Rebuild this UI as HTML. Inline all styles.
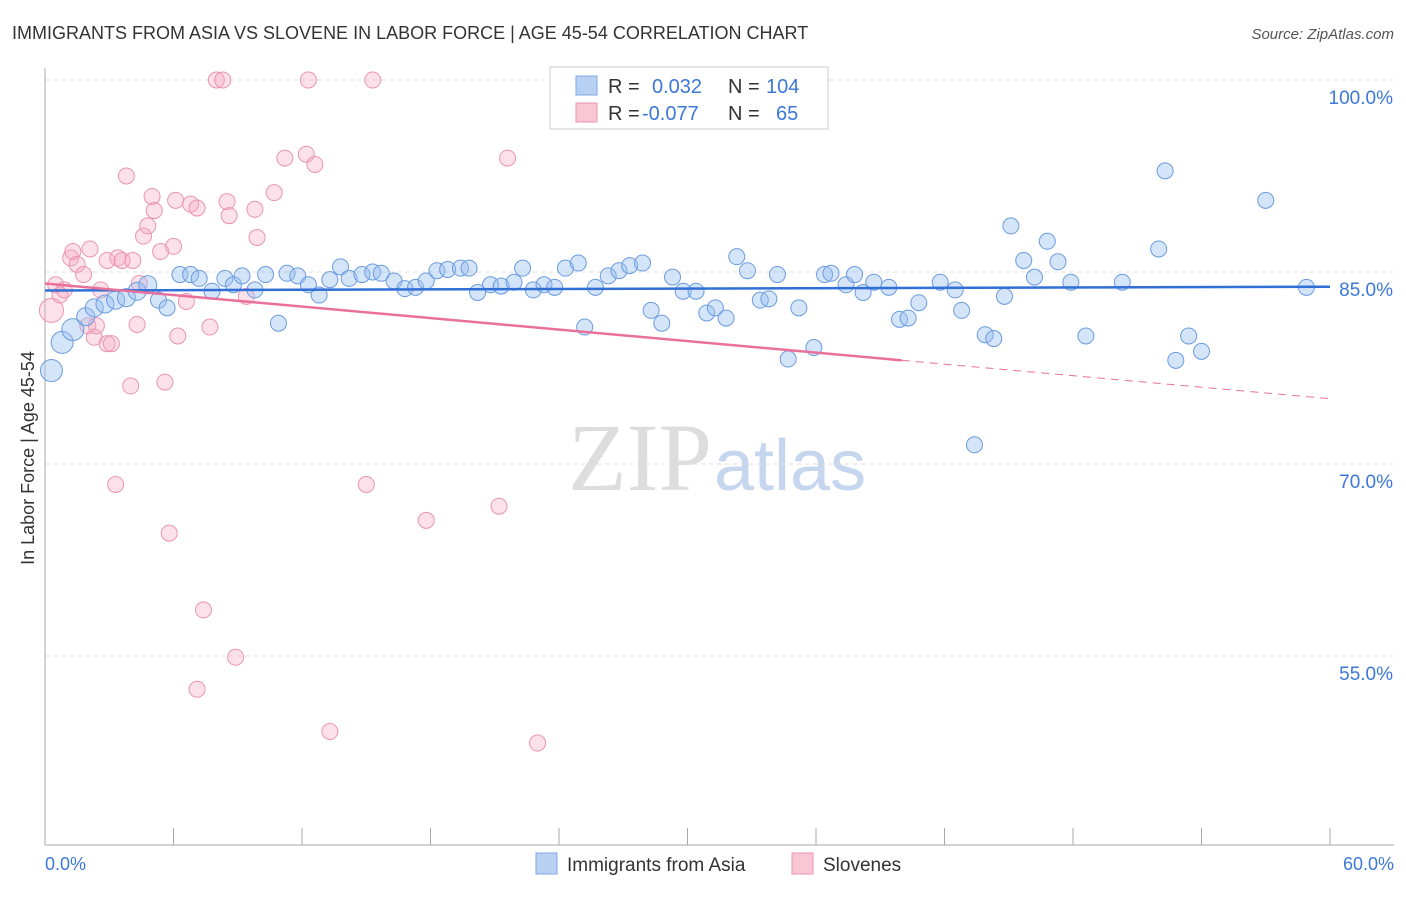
<!DOCTYPE html>
<html><head><meta charset="utf-8"><style>
body{margin:0;background:#fff;font-family:"Liberation Sans",sans-serif;}
</style></head><body>
<svg id="chart" width="1406" height="892" xmlns="http://www.w3.org/2000/svg">
<text x="12" y="39" font-size="18" fill="#333">IMMIGRANTS FROM ASIA VS SLOVENE IN LABOR FORCE | AGE 45-54 CORRELATION CHART</text>
<text x="1394" y="39" font-size="15" fill="#555" font-style="italic" text-anchor="end">Source: ZipAtlas.com</text>
<text x="712" y="490" font-size="96" fill="#ddd" text-anchor="end" font-family="Liberation Serif,serif">ZIP</text>
<text x="714" y="490" font-size="72" fill="#c5d6ee">atlas</text>
<g id="grid"></g>
<g id="axes"></g>
<g id="pts"></g>
<g id="trend"></g>
<text x="34" y="458" font-size="18" fill="#333" text-anchor="middle" transform="rotate(-90 34 458)">In Labor Force | Age 45-54</text>
<g>
<rect x="550" y="67" width="278" height="62" fill="#fff" stroke="#ccc"/>
<rect x="576" y="76" width="21" height="19" fill="#b8d1f3" stroke="#7fa7e0"/>
<rect x="576" y="103" width="21" height="19" fill="#f9c6d5" stroke="#eb94b0"/>
<text x="608" y="93" font-size="20" fill="#333">R =</text>
<text x="652" y="93" font-size="20" fill="#3b78d8">0.032</text>
<text x="728" y="93" font-size="20" fill="#333">N =</text>
<text x="766" y="93" font-size="20" fill="#3b78d8">104</text>
<text x="608" y="120" font-size="20" fill="#333">R =</text>
<text x="642" y="120" font-size="20" fill="#3b78d8">-0.077</text>
<text x="728" y="120" font-size="20" fill="#333">N =</text>
<text x="776" y="120" font-size="20" fill="#3b78d8">65</text>
</g>
<g>
<rect x="536" y="853" width="21" height="21" fill="#b8d1f3" stroke="#7fa7e0"/>
<text x="567" y="871" font-size="19" fill="#333">Immigrants from Asia</text>
<rect x="792" y="853" width="21" height="21" fill="#f9c6d5" stroke="#eb94b0"/>
<text x="823" y="871" font-size="19" fill="#333">Slovenes</text>
</g>
</svg>
<script>
const yTicks=[100,85,70,55];
const xTickLabels=["0.0%","60.0%"];
const blueX=[0.3,0.8,1.3,1.9,2.3,2.8,3.3,3.8,4.3,4.8,5.3,5.7,6.3,6.8,7.2,7.8,8.4,8.8,9.2,9.8,10.3,10.9,11.3,11.8,12.3,12.8,13.3,13.8,14.2,14.8,15.3,15.7,16.3,16.8,17.3,17.8,18.3,18.8,19.4,19.8,20.2,20.8,21.3,21.9,22.3,22.8,23.3,23.8,24.3,24.9,25.2,25.7,26.3,26.8,27.3,27.9,28.3,28.8,29.3,29.8,30.4,30.9,31.3,31.8,32.3,32.8,33.4,33.8,34.2,34.7,35.2,35.9,36.4,36.7,37.4,37.8,38.2,38.7,39.4,39.9,40.3,40.8,41.8,42.5,42.8,43.4,43.9,44.3,44.8,45.1,45.7,46.2,46.8,47.3,47.9,48.6,50.3,52.0,52.3,52.8,53.4,54.0,57.0,58.9];
const blueY=[77.3,79.5,80.5,81.5,82.2,82.5,82.8,83.0,83.5,84.0,82.8,82.2,84.8,84.8,84.5,83.5,84.5,84.0,84.7,83.6,84.8,81.0,84.9,84.7,84.0,83.2,84.4,85.4,84.5,84.8,85.0,84.9,84.3,83.7,83.8,84.3,85.1,85.2,85.3,85.3,83.4,84.0,83.9,84.2,85.3,83.6,84.0,83.8,85.3,85.7,80.7,83.8,84.7,85.1,85.5,85.7,82.0,81.0,84.6,83.5,83.5,81.8,82.2,81.4,86.2,85.1,82.8,82.9,84.8,78.2,82.2,79.1,84.8,84.9,84.0,84.8,83.4,84.2,83.8,81.3,81.4,82.6,84.2,83.6,82.0,71.5,80.1,79.8,83.1,88.6,85.9,84.6,87.4,85.8,84.2,80.0,84.2,86.8,92.9,78.1,80.0,78.8,90.6,83.8];
const pinkX=[0.3,0.5,0.7,0.9,1.2,1.3,1.5,1.8,2.0,2.1,2.3,2.4,2.6,2.9,2.9,3.1,3.3,3.4,3.6,3.8,4.0,4.1,4.3,4.4,4.6,4.8,5.0,5.1,5.4,5.6,5.8,6.0,6.1,6.2,6.6,6.8,7.1,7.4,7.1,7.7,8.0,8.3,8.5,8.6,8.9,9.8,9.9,9.4,10.7,11.2,12.2,12.3,12.6,13.3,15.0,15.3,17.8,21.2,21.6,23.0,33.4];
const pinkY=[82.0,84.0,83.2,83.6,86.1,86.6,85.6,84.8,80.8,86.8,79.9,80.8,83.6,79.4,85.9,79.4,68.4,86.1,85.9,92.5,76.1,85.9,80.9,84.1,87.8,88.6,90.9,89.8,86.6,76.4,64.6,87.0,90.6,80.0,82.7,90.3,90.0,58.6,52.4,80.7,100,100,90.5,89.4,54.9,89.9,87.7,83.1,91.2,93.9,94.2,100,93.4,49.1,68.4,100,65.6,66.7,93.9,48.2,100];
const pinkR=[12,8,8,8,8,8,8,8,8,8,8,8,8,8,8,8,8,8,8,8,8,8,8,8,8,8,8,8,8,8,8,8,8,8,8,8,8,8,8,8,8,8,8,8,8,8,8,8,8,8,8,8,8,8,8,8,8,8,8,8,8];
const blueTrend=[0,83.55,60,83.85];
const pinkTrend=[0,84.1,40,78.1,60,75.1];
const X=v=>45+v/60*1285, Y=v=>80+(100-v)*12.8;
const NS="http://www.w3.org/2000/svg";
function mk(p,t,a){const e=document.createElementNS(NS,t);for(const k in a)e.setAttribute(k,a[k]);document.getElementById(p).appendChild(e);return e;}
yTicks.forEach(t=>{
 const l=mk('grid','line',{x1:45,x2:1394,y1:Y(t),y2:Y(t),stroke:'#ddd','stroke-dasharray':'4,4'});
 
 
 const tx=mk('grid','text',{x:1393,y:Y(t)+24,'font-size':19,fill:'#3b78d8','text-anchor':'end'});
 tx.textContent=t.toFixed(1)+'%';
 
 
});
const ax=mk('axes','line',{x1:45,x2:45,y1:68,y2:845,stroke:'#aaa'});


const bx=mk('axes','line',{x1:45,x2:1394,y1:845,y2:845,stroke:'#aaa'});


for(let i=0;i<=10;i++){const x=X(i*6);const t=mk('axes','line',{x1:x,x2:x,y1:828,y2:845,stroke:'#aaa'});
 
 }
[[0,'start',45],[60,'end',1394]].forEach((d,i)=>{const t=mk('axes','text',{x:d[2],y:870,'font-size':18,fill:'#3b78d8','text-anchor':d[1]});t.textContent=xTickLabels[i];
 
 });
pinkX.forEach((v,i)=>{const c=mk('pts','circle',{cx:X(v),cy:Y(pinkY[i]),r:pinkR[i],fill:'rgba(246,170,195,0.35)',stroke:'#eb94b0','stroke-width':1});
 
 });
blueX.forEach((v,i)=>{const c=mk('pts','circle',{cx:X(v),cy:Y(blueY[i]),r:i<3?11:(i<10?9:8),fill:'rgba(150,190,240,0.4)',stroke:'#6a9be0','stroke-width':1});
 
 });
const bl=mk('trend','line',{x1:X(blueTrend[0]),y1:Y(blueTrend[1]),x2:X(blueTrend[2]),y2:Y(blueTrend[3]),stroke:'#2f6fd6','stroke-width':2.5});


const pl=mk('trend','line',{x1:X(pinkTrend[0]),y1:Y(pinkTrend[1]),x2:X(pinkTrend[2]),y2:Y(pinkTrend[3]),stroke:'#e8709a','stroke-width':2.5});


const pd=mk('trend','line',{x1:X(pinkTrend[2]),y1:Y(pinkTrend[3]),x2:X(pinkTrend[4]),y2:Y(pinkTrend[5]),stroke:'#e8709a','stroke-width':1,'stroke-dasharray':'8,6'});


</script>
</body></html>
